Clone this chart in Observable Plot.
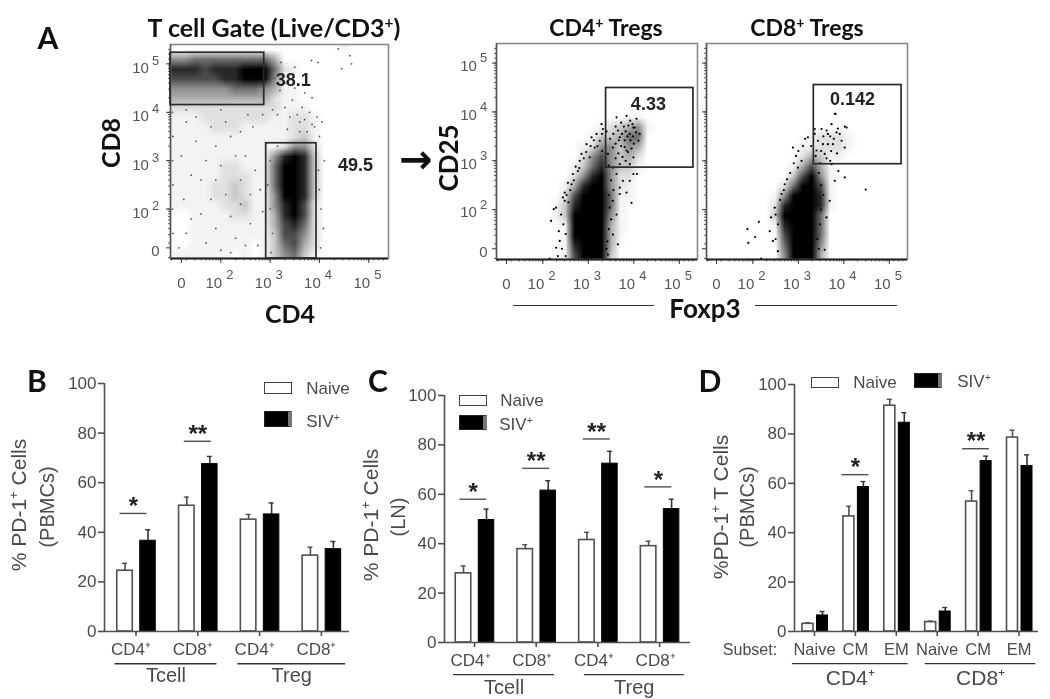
<!DOCTYPE html>
<html>
<head>
<meta charset="utf-8">
<script src="https://cdn.jsdelivr.net/npm/d3@7"></script>
<script src="https://cdn.jsdelivr.net/npm/@observablehq/plot@0.6"></script>
<style>
html,body{margin:0;padding:0;background:#fff}
#fig{position:relative;width:1050px;height:699px;overflow:hidden;background:#fff;filter:blur(.55px)}
#fig svg{position:absolute;background:transparent}
.t{position:absolute;white-space:nowrap;line-height:1;transform-origin:center}
.sw{position:absolute;box-sizing:border-box}
sup{font-size:.62em;line-height:0;vertical-align:.55em}
</style>
</head>
<body>
<div id="fig"></div>
<script>
// ---------- Flow panels: read-off density grids (0-9 darkness, top row first), axis units are log10
const flowDomain = [0.98, 5.4];
const gridCD8CD4 = [
"0000000000000000010000",
"5566666666400000000000",
"8887888999621000000000",
"7777788999510000000000",
"5555556665411000000000",
"4444444444211000000000",
"2222222222211100000000",
"1112222222112210000000",
"1111222111112210000000",
"1111111111112310000000",
"1111111111125520000000",
"1111111111589830000000",
"1111122111699830000000",
"1111122211699830000000",
"1111223211699830000000",
"1111223211599830000000",
"1111122311589720000000",
"0011112211489720000000",
"0011111111478620000000",
"0011111111377520000000",
"0011111101367420000000",
"1111110101356310000000"];
const gridCD4Treg = [
"0000000000000000000000",
"0000000000000000000000",
"0000000000000000000000",
"0000000000000000000000",
"0000000000000000000000",
"0000000000000000000000",
"0000000000000000000000",
"0000000000000011000000",
"0000000000012345100000",
"0000000000133466000000",
"0000000001255354000000",
"0000000002575342000000",
"0000000013685331000000",
"0000000025895220000000",
"0000000148995210000000",
"0000000279996110000000",
"0000001389996100000000",
"0000001399995100000000",
"0000000199994100000000",
"0000000199994100000000",
"0000000189994000000000",
"0000000179993000000000"];
const gridCD8Treg = [
"0000000000000000000000",
"0000000000000000000000",
"0000000000000000000000",
"0000000000000000000000",
"0000000000000000000000",
"0000000000000000000000",
"0000000000000000000000",
"0000000000000000000000",
"0000000000000000000000",
"0000000000012221000000",
"0000000000112221000000",
"0000000000243110000000",
"0000000001474100000000",
"0000000003795100000000",
"0000000026997100000000",
"0000000159998100000000",
"0000000289998100000000",
"0000000399996000000000",
"0000000189996000000000",
"0000000079996000000000",
"0000000069995000000000",
"0000000059994000000000"];
const dotsCD8CD4 = [[4.38,5.31],[4.62,5.17],[4.45,4.9],[4.65,5.0],[3.84,5.07],[3.97,5.03],[3.22,5.03],[3.5,4.93],[3.1,4.7],[3.3,4.6],[3.5,4.5],[3.7,4.4],[3.85,4.3],[3.2,4.45],[3.45,4.25],[3.65,4.1],[3.8,4.0],[3.95,3.9],[3.4,3.9],[3.6,3.8],[3.75,3.6],[3.9,3.7],[4.0,3.5],[4.05,3.8],[1.3,3.8],[1.5,3.4],[1.2,3.1],[1.7,3.0],[1.4,2.7],[1.9,2.6],[2.2,3.5],[2.5,3.1],[2.7,2.8],[2.1,2.3],[2.4,2.1],[2.8,2.4],[1.25,2.2],[1.6,1.9],[1.9,1.6],[2.3,1.4],[2.6,1.7],[2.85,1.95],[1.3,1.5],[1.15,1.2],[2.0,1.15],[2.75,1.25],[4.1,3.0],[4.0,2.4],[4.03,2.0],[4.08,1.6],[4.02,1.2],[3.98,2.8],[1.02,4.0],[1.03,3.5],[1.02,3.0],[1.03,2.5],[1.02,2.0],[1.03,1.5],[3.05,4.05],[3.15,3.95],[3.3,4.1],[3.55,3.95],[3.7,3.85],[3.85,3.75],[3.6,3.6],[3.35,3.65],[3.15,3.3],[3.0,3.0],[2.95,2.5],[3.0,2.0],[3.05,1.5],[3.02,1.1],[1.5,3.9],[1.8,3.7],[2.1,3.8],[2.4,3.6],[2.65,3.7],[1.9,3.3],[2.3,3.1],[1.6,2.6],[2.0,2.9],[2.4,2.6],[2.6,2.3],[1.8,2.2],[2.2,1.85],[1.4,1.8],[2.5,1.25],[1.7,1.3],[2.2,1.1],[2.55,3.95],[2.85,3.95],[2.0,4.05],[1.3,4.05]];
const dotsCD4Treg = [[2.18,1.77],[2.29,2.04],[2.24,2.01],[2.35,1.56],[2.29,1.22],[2.44,2.25],[2.48,2.35],[2.55,2.55],[2.66,2.73],[2.81,3.0],[2.85,3.14],[2.96,3.34],[3.07,3.48],[3.18,3.55],[3.29,3.75],[3.32,3.65],[3.62,3.89],[3.84,3.92],[4.06,3.86],[4.13,3.55],[4.1,3.41],[3.99,3.07],[3.91,2.93],[3.69,2.32],[3.84,2.35],[3.95,2.14],[3.62,1.9],[3.65,1.29],[3.54,1.49],[3.43,1.08],[3.99,2.73],[4.07,2.73],[3.91,2.59],[3.47,2.04],[3.54,2.18],[3.69,2.45],[3.76,2.59],[3.62,2.73],[3.54,2.86],[3.69,2.93],[3.84,3.21],[3.99,3.68],[3.91,3.55],[3.69,3.48],[3.54,3.27],[3.43,3.14],[3.25,3.41],[3.14,3.27],[3.03,3.07],[2.77,2.79],[2.63,2.52],[2.48,2.18],[2.4,1.9],[2.37,1.36],[2.33,1.05],[2.15,1.0],[3.6,3.7],[3.65,3.62],[3.72,3.78],[3.78,3.7],[3.82,3.6],[3.88,3.72],[3.92,3.82],[3.97,3.75],[4.02,3.68],[4.05,3.58],[3.98,3.5],[3.93,3.42],[3.86,3.5],[3.8,3.42],[3.74,3.55],[3.67,3.42],[3.6,3.35],[3.72,3.3],[3.8,3.28],[3.87,3.18],[3.95,3.25],[4.0,3.35],[3.66,3.15],[3.75,3.08],[3.82,3.0],[3.6,3.05],[3.55,3.55],[3.48,3.45],[3.4,3.6],[3.3,3.55],[2.52,2.3],[2.56,2.15],[2.6,2.4],[2.45,1.7],[2.5,1.5],[2.42,1.2],[2.5,1.05],[2.68,2.6],[2.72,2.88],[2.8,2.85],[2.9,3.05],[2.95,3.18],[3.05,3.3],[3.12,3.42],[3.2,3.3],[3.3,3.2],[3.45,2.9],[3.5,2.6],[3.55,2.4],[3.45,2.3],[3.5,1.8],[3.45,1.6],[3.42,1.35],[3.4,1.2]];
const dotsCD8Treg = [[1.88,1.6],[2.13,1.75],[2.05,1.44],[1.9,1.32],[2.4,1.84],[2.48,2.04],[2.63,2.32],[2.7,2.52],[2.88,3.27],[2.99,2.86],[3.07,3.0],[3.21,3.48],[3.36,3.65],[3.51,3.65],[3.73,3.75],[4.02,3.7],[3.8,3.96],[3.84,3.58],[3.95,3.41],[4.02,3.27],[3.65,3.55],[3.54,3.34],[3.43,3.41],[3.4,3.21],[3.58,3.14],[3.73,2.93],[3.88,2.79],[4.02,2.66],[3.8,2.59],[4.48,2.41],[3.69,2.18],[3.62,1.84],[3.58,1.18],[2.18,1.0],[2.37,1.56],[2.44,1.36],[3.82,3.96],[3.91,3.55],[4.06,3.68],[3.65,3.34],[3.76,3.34],[3.36,3.55],[2.5,1.9],[2.55,1.7],[2.5,1.4],[2.55,1.15],[2.6,2.2],[2.68,2.4],[2.75,2.62],[2.82,2.75],[2.9,2.95],[2.95,3.1],[3.0,3.2],[3.1,3.3],[3.15,3.45],[3.28,3.3],[3.38,3.1],[3.48,2.95],[3.45,2.75],[3.5,2.5],[3.55,2.3],[3.5,2.0],[3.48,1.7],[3.42,1.4],[3.45,1.2],[3.55,3.5],[3.62,3.62],[3.7,3.5],[3.78,3.45],[3.87,3.66],[3.72,3.2],[3.62,3.05],[3.5,3.2],[3.7,3.0],[3.85,3.15]];
const gatesCD8CD4 = [{x1:0.98,x2:2.88,y1:4.15,y2:5.23},{x1:2.92,x2:3.94,y1:0.98,y2:3.36}];
const gatesCD4Treg = [{x1:3.39,x2:5.31,y1:2.86,y2:4.49}];
const gatesCD8Treg = [{x1:3.34,x2:5.27,y1:2.93,y2:4.55}];
const gateLabelsCD8CD4 = [{x:3.47,y:4.66,text:"38.1"},{x:4.73,y:2.9,text:"49.5"}];
const gateLabelsCD4Treg = [{x:4.32,y:4.15,text:"4.33"}];
const gateLabelsCD8Treg = [{x:4.19,y:4.25,text:"0.142"}];
const decades = [2,3,4,5];
const zeroTick = 1.2;
const minorTicks = [1,2,3,4].flatMap(d=>[2,3,4,5,6,7,8,9].map(m=>d+Math.log10(m))).concat(decades,[1,5.1,5.2,5.3]).filter(v=>v>flowDomain[0]&&v<flowDomain[1]);

// ---------- Bar panels
const groupsBC = ["CD4⁺","CD8⁺","CD4⁺","CD8⁺"];
const naiveB = [24.5,50.7,45.1,30.6], naiveErrB = [27.5,54.2,47.2,34];
const sivB = [36.6,67.5,47.2,33.2], sivErrB = [41,70.6,51.8,36.3];
const sigB = [{g:-0.04,y:47.6,s:"*"},{g:1,y:76.7,s:"**"}];
const spansB = [{a:-0.34,b:1.31,s:"Tcell"},{a:1.65,b:3.39,s:"Treg"}];
const naiveC = [28,37.8,41.5,39], naiveErrC = [31,39.6,44.6,41];
const sivC = [49.6,61.5,72.4,54], sivErrC = [54,65.5,77.4,58];
const sigC = [{g:-0.02,y:58,s:"*"},{g:1,y:70.5,s:"**"},{g:1.98,y:82.4,s:"**"},{g:2.98,y:63,s:"*"}];
const spansC = [{a:-0.34,b:1.3,s:"Tcell"},{a:1.78,b:3.4,s:"Treg"}];
const groupsD = ["Naive","CM","EM","Naive","CM","EM"];
const naiveD = [3.1,46.6,91.4,3.8,52.6,78.5], naiveErrD = [3.5,50.7,94,4.2,57,81.5];
const sivD = [6.5,58.5,84.5,8.1,69,67], sivErrD = [8.1,60.7,88.6,9.7,71,71.5];
const sigD = [{g:1,y:63.5,s:"*"},{g:3.95,y:74,s:"**"}];
const spansD = [{a:-0.54,b:2.29,s:"CD4⁺"},{a:2.71,b:5.41,s:"CD8⁺"}];
const yTicks = [0,20,40,60,80,100];

const fig = document.getElementById("fig");
const SANS = "'Liberation Sans',Arial,sans-serif", CAL = "Lato,'Open Sans',sans-serif";
const GRAY = "#4a4a4a";

function place(svg, x, y){ svg.style.left = x+"px"; svg.style.top = y+"px"; fig.appendChild(svg); }
function txt(html, x, y, o={}){
  const d = document.createElement("div"); d.className="t"; d.innerHTML = html;
  d.style.left = x+"px"; d.style.top = y+"px";
  d.style.fontFamily = o.family||CAL; d.style.fontSize=(o.size||24)+"px";
  d.style.fontWeight = o.weight||"bold"; d.style.color = o.color||"#111";
  d.style.transform = `translate(-50%,-50%)${o.rotate?" rotate(-90deg)":""}`;
  fig.appendChild(d);
}
function swatch(x,y,w,h,dark){
  const d=document.createElement("div"); d.className="sw";
  Object.assign(d.style,{left:x+"px",top:y+"px",width:w+"px",height:h+"px",
    background:dark?"#000":"#fff",border:dark?"1px solid #222":"1.6px solid #444",borderRight:dark?"4px solid #777":"1.6px solid #444"});
  fig.appendChild(d);
}

function flow({frame:[l,t,r,b],grid,dots,gates,labels,dotFill,dotR,yLabels,yDx,y10dy,yExpDy}){
  const pad={l:yLabels?62:6,t:6,r:6,b:42};
  const values = grid.flatMap(row=>Array.from(row,Number));
  const tc = "#555";
  const marks = [
    Plot.raster(values,{width:22,height:22,x1:flowDomain[0],x2:flowDomain[1],y1:flowDomain[1],y2:flowDomain[0],fill:d=>d}),
    Plot.dot(dots,{x:d=>d[0],y:d=>d[1],r:dotR,fill:dotFill,stroke:"none"}),
    Plot.frame({stroke:"#8a8a8a",strokeWidth:1.6}),
    Plot.axisX({ticks:minorTicks,tickSize:2.5,tickFormat:()=>"",stroke:"#333",strokeWidth:.8}),
    Plot.axisX({ticks:decades.concat([zeroTick]),tickSize:5,tickFormat:()=>"",stroke:"#333"}),
    Plot.axisY({ticks:minorTicks,tickSize:2,tickFormat:()=>"",stroke:"#333",strokeWidth:.8}),
    Plot.axisY({ticks:decades.concat([zeroTick]),tickSize:4,tickFormat:()=>"",stroke:"#333"}),
    Plot.ruleY([flowDomain[0]],{stroke:"#222",strokeWidth:1.8}),
    Plot.ruleX([flowDomain[0]],{stroke:"#555",strokeWidth:1.4}),
    Plot.rect(gates,{x1:"x1",x2:"x2",y1:"y1",y2:"y2",stroke:"#2a2a2a",strokeWidth:1.7,fill:"none"}),
    Plot.text(labels,{x:"x",y:"y",text:"text",fontFamily:SANS,fontWeight:"bold",fontSize:18,fill:"#222"}),
    Plot.text(decades,{x:d=>d,frameAnchor:"bottom",text:()=>"10",dx:-7,dy:29,fontFamily:SANS,fontSize:15,fill:tc}),
    Plot.text(decades,{x:d=>d,frameAnchor:"bottom",text:d=>String(d),dx:9,dy:20,fontFamily:SANS,fontSize:13,fill:tc}),
    Plot.text([zeroTick],{x:d=>d,frameAnchor:"bottom",text:()=>"0",dy:29,fontFamily:SANS,fontSize:15,fill:tc})
  ];
  if(yLabels) marks.push(
    Plot.text(decades,{y:d=>d,frameAnchor:"left",text:()=>"10",dx:yDx,dy:y10dy,fontFamily:SANS,fontSize:15,fill:tc,textAnchor:"middle"}),
    Plot.text(decades,{y:d=>d,frameAnchor:"left",text:d=>String(d),dx:yDx+15,dy:yExpDy,fontFamily:SANS,fontSize:13,fill:tc,textAnchor:"middle"}),
    Plot.text([zeroTick],{y:d=>d,frameAnchor:"left",text:()=>"0",dx:yDx+15,dy:3,fontFamily:SANS,fontSize:15,fill:tc,textAnchor:"middle"})
  );
  const svg = Plot.plot({
    width:r-l+pad.l+pad.r,height:b-t+pad.t+pad.b,
    marginLeft:pad.l,marginRight:pad.r,marginTop:pad.t,marginBottom:pad.b,
    x:{domain:flowDomain,axis:null},y:{domain:flowDomain,axis:null},
    color:{type:"pow",exponent:1.4,domain:[0,9],range:["#ffffff","#000000"],legend:false},
    style:{background:"transparent",overflow:"visible"},
    marks
  });
  place(svg,l-pad.l,t-pad.t);
}

function bars({l,y100,r,y0,c0,pitch,labels,naive,naiveErr,siv,sivErr,sig,spans,w,offN,offS,labelDx,labelSize,spanDy,spanLabelDy,spanSize}){
  const pad={l:44,t:16,r:8,b:64};
  const rows = labels.map((lab,g)=>({g,lab,n:naive[g],ne:naiveErr[g],s:siv[g],se:sivErr[g]}));
  const u = px=>px/pitch, cap=u(2.5);
  const dom=[(l-c0)/pitch,(r-c0)/pitch];
  const axisC="#4f4f4f";
  const svg = Plot.plot({
    width:r-l+pad.l+pad.r,height:y0-y100+pad.t+pad.b,
    marginLeft:pad.l,marginRight:pad.r,marginTop:pad.t,marginBottom:pad.b,
    x:{domain:dom,axis:null},y:{domain:[0,100],axis:null},
    style:{background:"transparent",overflow:"visible"},
    marks:[
      Plot.ruleX(rows,{x:d=>d.g+u(offN),y1:"n",y2:"ne",stroke:axisC,strokeWidth:1.6}),
      Plot.ruleY(rows,{y:"ne",x1:d=>d.g+u(offN)-cap,x2:d=>d.g+u(offN)+cap,stroke:axisC,strokeWidth:1.4}),
      Plot.ruleX(rows,{x:d=>d.g+u(offS),y1:"s",y2:"se",stroke:"#333",strokeWidth:1.6}),
      Plot.ruleY(rows,{y:"se",x1:d=>d.g+u(offS)-cap,x2:d=>d.g+u(offS)+cap,stroke:"#333",strokeWidth:1.4}),
      Plot.rectY(rows,{x1:d=>d.g+u(offN-w/2),x2:d=>d.g+u(offN+w/2),y1:0,y2:"n",fill:"#fff",stroke:axisC,strokeWidth:1.6}),
      Plot.rectY(rows,{x1:d=>d.g+u(offS-w/2),x2:d=>d.g+u(offS+w/2),y1:0,y2:"s",fill:"#000",stroke:"#000",strokeWidth:1}),
      Plot.ruleX([dom[0]],{y1:0,y2:100,stroke:axisC,strokeWidth:1.6}),
      Plot.ruleY([0],{stroke:axisC,strokeWidth:1.6}),
      Plot.axisY({ticks:yTicks,tickSize:6,tickPadding:2,fontSize:17,fontFamily:SANS,color:GRAY,stroke:axisC,strokeWidth:1.6,label:null,anchor:"left"}),
      Plot.axisX({ticks:labels.map((_,g)=>g),tickSize:5,tickFormat:()=>"",stroke:axisC,strokeWidth:1.6,anchor:"bottom",label:null}),
      Plot.text(rows,{x:"g",y:0,text:"lab",dx:labelDx,dy:18,fontFamily:SANS,fontSize:labelSize,fill:GRAY}),
      Plot.ruleY(sig,{y:"y",x1:d=>d.g-u(13.5),x2:d=>d.g+u(13.5),stroke:axisC,strokeWidth:1.4}),
      Plot.text(sig,{x:"g",y:"y",text:"s",dy:-7,fontFamily:SANS,fontWeight:"bold",fontSize:24,fill:"#222"}),
      Plot.ruleY(spans,{y:-spanDy,x1:"a",x2:"b",stroke:"#333",strokeWidth:1.4}),
      Plot.text(spans,{x:d=>(d.a+d.b)/2,y:0,text:"s",dy:spanLabelDy,fontFamily:SANS,fontSize:spanSize,fill:GRAY})
    ]
  });
  place(svg,l-pad.l,y100-pad.t);
}

// ---- Panel A
flow({frame:[170,44,388,258],grid:gridCD8CD4,dots:dotsCD8CD4,gates:gatesCD8CD4,labels:gateLabelsCD8CD4,dotFill:"#555",dotR:.9,yLabels:true,yDx:-30,y10dy:4,yExpDy:-3});
flow({frame:[496,43,697,259],grid:gridCD4Treg,dots:dotsCD4Treg,gates:gatesCD4Treg,labels:gateLabelsCD4Treg,dotFill:"#000",dotR:1.1,yLabels:true,yDx:-28,y10dy:3,yExpDy:-5});
flow({frame:[706,43,907,259],grid:gridCD8Treg,dots:dotsCD8Treg,gates:gatesCD8Treg,labels:gateLabelsCD8Treg,dotFill:"#000",dotR:1.1,yLabels:false});

txt("A",48,37,{size:30});
txt("T cell Gate (Live/CD3<sup>+</sup>)",274,27,{size:25});
txt("CD4<sup>+</sup> Tregs",606,27,{size:23});
txt("CD8<sup>+</sup> Tregs",807,27,{size:23});
txt("CD8",110,143,{size:25,rotate:true});
txt("CD4",290,313,{size:25});
txt("CD25",448,158,{size:26,rotate:true});
txt("Foxp3",705,308,{size:26});
txt("→",416,159,{size:40,family:"'DejaVu Sans',sans-serif"});
const ruleBox=(x,w)=>{const d=document.createElement("div");d.className="sw";Object.assign(d.style,{left:x+"px",top:"304.5px",width:w+"px",height:"1.5px",background:"#333"});fig.appendChild(d);};
ruleBox(513,141);ruleBox(755,142);

// ---- Panel B
bars({l:104,y100:383,r:349,y0:631,c0:135.5,pitch:61.8,labels:groupsBC,naive:naiveB,naiveErr:naiveErrB,siv:sivB,sivErr:sivErrB,sig:sigB,spans:spansB,w:15.5,offN:-11,offS:12,labelDx:-5,labelSize:17,spanDy:13,spanLabelDy:44,spanSize:20});
txt("B",37,380,{size:30});
txt("% PD-1<sup>+</sup> Cells",18,505,{family:SANS,size:21,weight:"normal",color:GRAY,rotate:true});
txt("(PBMCs)",47,507,{family:SANS,size:20,weight:"normal",color:GRAY,rotate:true});
swatch(264,382,28,12,false);swatch(264,411,28,16,true);
txt("Naive",328,388,{family:SANS,size:17,weight:"normal",color:GRAY});
txt("SIV<sup>+</sup>",323,421,{family:SANS,size:17,weight:"normal",color:GRAY});

// ---- Panel C
bars({l:444,y100:395,r:690,y0:642,c0:474,pitch:61.7,labels:groupsBC,naive:naiveC,naiveErr:naiveErrC,siv:sivC,sivErr:sivErrC,sig:sigC,spans:spansC,w:15.5,offN:-11,offS:12,labelDx:-4,labelSize:17,spanDy:13,spanLabelDy:45,spanSize:20});
txt("C",378,380,{size:30});
txt("% PD-1<sup>+</sup> Cells",370,515,{family:SANS,size:21,weight:"normal",color:GRAY,rotate:true});
txt("(LN)",398,517,{family:SANS,size:20,weight:"normal",color:GRAY,rotate:true});
swatch(459,395,28,11,false);swatch(459,415,28,15,true);
txt("Naive",522,400,{family:SANS,size:17,weight:"normal",color:GRAY});
txt("SIV<sup>+</sup>",516,424,{family:SANS,size:17,weight:"normal",color:GRAY});

// ---- Panel D
bars({l:794,y100:384,r:1038,y0:631,c0:814,pitch:40.9,labels:groupsD,naive:naiveD,naiveErr:naiveErrD,siv:sivD,sivErr:sivErrD,sig:sigD,spans:spansD,w:11,offN:-6.5,offS:8,labelDx:0,labelSize:16.5,spanDy:13,spanLabelDy:47,spanSize:21});
txt("D",710,380,{size:30});
txt("%PD-1<sup>+</sup> T Cells",720,507,{family:SANS,size:21,weight:"normal",color:GRAY,rotate:true});
txt("(PBMCs)",747,507,{family:SANS,size:20,weight:"normal",color:GRAY,rotate:true});
txt("Subset:",750,650,{family:SANS,size:16,weight:"normal",color:GRAY});
swatch(811,377,28,11,false);swatch(914,373,28,15,true);
txt("Naive",875,382,{family:SANS,size:17,weight:"normal",color:GRAY});
txt("SIV<sup>+</sup>",974,381,{family:SANS,size:17,weight:"normal",color:GRAY});
</script>
</body>
</html>
